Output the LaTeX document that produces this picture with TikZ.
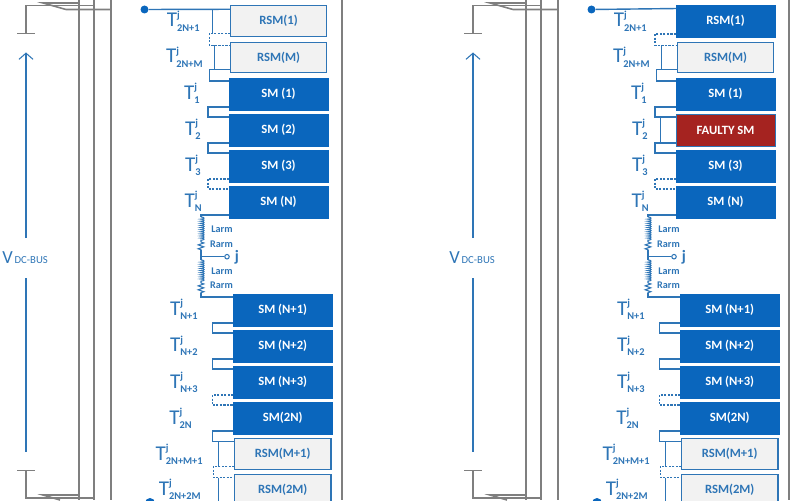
\documentclass[tikz,border=0pt]{standalone}
\usepackage{fontspec}
\setmainfont{Carlito}
\usepackage{xcolor}
\usetikzlibrary{arrows.meta,decorations.pathmorphing}

\definecolor{busblue}{HTML}{2E75B6}
\definecolor{smblue}{HTML}{0A66BD}
\definecolor{sparegray}{HTML}{F2F2F2}
\definecolor{faultred}{HTML}{A52320}
\definecolor{framegray}{HTML}{7F7F7F}

% switch label: T with j above and the index below
\newcommand{\swlabel}[1]{T\rlap{\raisebox{4.8pt}{\fontsize{6}{7}\selectfont\bfseries j}}\raisebox{-2.4pt}{\fontsize{5.9}{7}\selectfont\bfseries #1}}

\begin{document}
\begin{tikzpicture}[
    x=0.02cm, y=-0.02cm,
    module/.style={draw=smblue, fill=smblue, minimum width=1.98cm, minimum height=0.64cm, inner sep=0pt, outer sep=0pt, text=white, font=\fontsize{7.2}{8}\selectfont\bfseries},
    spare/.style={draw=busblue, line width=0.8pt, fill=sparegray, minimum width=1.93cm, minimum height=0.61cm, inner sep=0pt, outer sep=0pt, text=busblue, font=\fontsize{7.2}{8}\selectfont\bfseries},
    faulty/.style={module, draw=busblue, fill=faultred},
    link/.style={draw=busblue, line width=0.6pt},
    broken/.style={dash pattern=on 1.2pt off 0.8pt},
    whole/.style={},
    frame/.style={draw=framegray, line width=0.9pt},
    swtext/.style={anchor=base east, inner sep=0pt, text=busblue, font=\fontsize{12}{12}\selectfont},
    armtext/.style={inner sep=0pt, text=busblue, font=\fontsize{5.8}{6}\selectfont\bfseries},
    dot/.style={circle, fill=smblue, inner sep=0pt}
  ]

  \clip (0,0) rectangle (800,500);

  \foreach \p/\dx/\firststyle/\secondstyle/\secondtext in {l/0/spare/module/SM (2), r/447/module/faulty/FAULTY SM} {
  \begin{scope}[shift={(\dx,0)}]

    % Cabinet frame and DC switches
    \foreach \x in {79,94,111,342}
      \draw[frame] (\x,0) -- (\x,500);
    \draw[frame] (17,33.5) -- (35,33.5);
    \draw[frame] (26,33.5) -- (26,5.5) -- (94,5.5);
    \draw[frame] (79,3) -- (43,3) -- (66,9.5) -- (111,9.5);
    \draw[frame] (17,470.5) -- (35,470.5);
    \draw[frame] (26,470.5) -- (26,498) -- (94,498);
    \draw[frame] (79,495) -- (43,495) -- (60,500);

    % Bus voltage
    \node[inner sep=0pt, anchor=west, text=busblue] (\p bus) at (2,258) {\fontsize{10.5}{11}\selectfont V\fontsize{6.1}{7}\selectfont\,DC-BUS};
    \coordinate (\p va) at (26,238);
    \coordinate (\p vb) at (26,52.5);
    \coordinate (\p vc) at (26,278);
    \coordinate (\p vd) at (26,452);
    \draw[link, -{Straight Barb[length=3.5pt,width=8pt]}] (\p va) -- (\p vb);
    \draw[link] (\p vc) -- (\p vd);

    % Upper arm
    \node[\firststyle] (\p rsmone) at (278.5,21) {RSM(1)};
    \node[spare] (\p rsmm) at (278.5,57.5) {RSM(M)};
    \node[module] (\p smone) at (278.5,94) {SM (1)};
    \node[\secondstyle] (\p smtwo) at (278.5,130) {\secondtext};
    \node[module] (\p smthree) at (278.5,166) {SM (3)};
    \node[module] (\p smn) at (278.5,202) {SM (N)};

    % Lower arm
    \node[module] (\p smna) at (282.7,310) {SM (N+1)};
    \node[module] (\p smnb) at (282.7,346) {SM (N+2)};
    \node[module] (\p smnc) at (282.7,382) {SM (N+3)};
    \node[module] (\p smtwon) at (282.7,418) {SM(2N)};
    \node[spare] (\p rsmp) at (282.7,454) {RSM(M+1)};
    \node[spare] (\p rsmtwom) at (282.7,490) {RSM(2M)};

    % Jumpers between neighbouring modules
    \foreach \a/\b/\kind in {rsmone/rsmm/broken,rsmm/smone/whole,smone/smtwo/whole,smtwo/smthree/whole,smthree/smn/broken,smna/smnb/whole,smnb/smnc/whole,smnc/smtwon/broken,smtwon/rsmp/whole,rsmp/rsmtwom/broken}
      \draw[link, \kind] ([yshift=1.7pt]\p\a.south west) -- ++(-21,0) |- ([yshift=-1.7pt]\p\b.north west);

    % Bypassed modules
    \foreach \b in {rsmm,rsmp,rsmtwom}
      \draw[link] ([xshift=-9.2pt,yshift=-1.7pt]\p\b.north west) -- ([xshift=-9.2pt,yshift=1.7pt]\p\b.south west);

    % Output terminals of the leg
    \node[dot, minimum size=0.16cm] (\p dctop) at (144.5,9.5) {};
    \draw[link, line width=0.8pt] (\p dctop) -- ([yshift=-2pt]\p rsmone.north west);
    \node[dot, minimum size=0.2cm] (\p dcbot) at (150,503) {};
    \draw[link, line width=0.8pt] (\p dcbot) -- ([yshift=1.7pt]\p rsmtwom.south west);

    % Arm impedances and phase output
    \coordinate (\p la) at (201,217);
    \coordinate (\p lb) at (201,242);
    \coordinate (\p lc) at (201,250);
    \coordinate (\p mid) at (201,256.7);
    \coordinate (\p ld) at (201,260);
    \coordinate (\p le) at (201,283);
    \coordinate (\p lf) at (201,293);
    \node[circle, draw=busblue, line width=0.6pt, fill=white, minimum size=0.09cm, inner sep=0pt] (\p j) at (227,256.7) {};
    \draw[link] ([yshift=1.7pt]\p smn.south west) -| (\p la);
    \draw[link, decorate, decoration={bumps, segment length=2.4pt, amplitude=1.7pt}] (\p la) -- (\p lb);
    \draw[link, decorate, decoration={zigzag, segment length=2.2pt, amplitude=1.6pt}] (\p lb) -- (\p lc);
    \draw[link] (\p lc) -- (\p ld);
    \draw[link] (\p mid) -- (\p j);
    \draw[link, decorate, decoration={bumps, segment length=2.4pt, amplitude=1.7pt}] (\p ld) -- (\p le);
    \draw[link, decorate, decoration={zigzag, segment length=2.2pt, amplitude=1.6pt}] (\p le) -- (\p lf);
    \draw[link] (\p lf) |- ([yshift=-1.7pt]\p smna.north west);

    \node[inner sep=0pt, text=busblue, font=\fontsize{9}{10}\selectfont\bfseries] (\p jname) at (237,257) {j};
    \node[armtext] (\p larma) at (222,229.5) {Larm};
    \node[armtext] (\p rarma) at (221.5,244) {Rarm};
    \node[armtext] (\p larmb) at (222,271.5) {Larm};
    \node[armtext] (\p rarmb) at (221.5,285.5) {Rarm};

    % Switch labels
    \foreach \n/\x/\y/\idx in {ta/200/27/2N+1, tb/203/63/2N+M, tc/200/99/1, td/201/135/2, te/201/171/3, tf/202/207/N, tg/198/315/N+1, th/198/351.5/N+2, ti/198/388/N+3, tj/192/424/2N, tk/203/460/2N+M+1, tl/201/495/2N+2M}
      \node[swtext] (\p\n) at (\x,\y) {\swlabel{\idx}};

  \end{scope}
  }

  % Bypass wires that differ between the two legs
  \draw[link] ([xshift=-9.9pt,yshift=-2pt]lrsmone.north west) -- ([xshift=-9.9pt,yshift=1.7pt]lrsmone.south west);
  \draw[link] ([xshift=-8.8pt,yshift=-1.7pt]rsmtwo.north west) -- ([xshift=-8.8pt,yshift=1.7pt]rsmtwo.south west);

\end{tikzpicture}
\end{document}
